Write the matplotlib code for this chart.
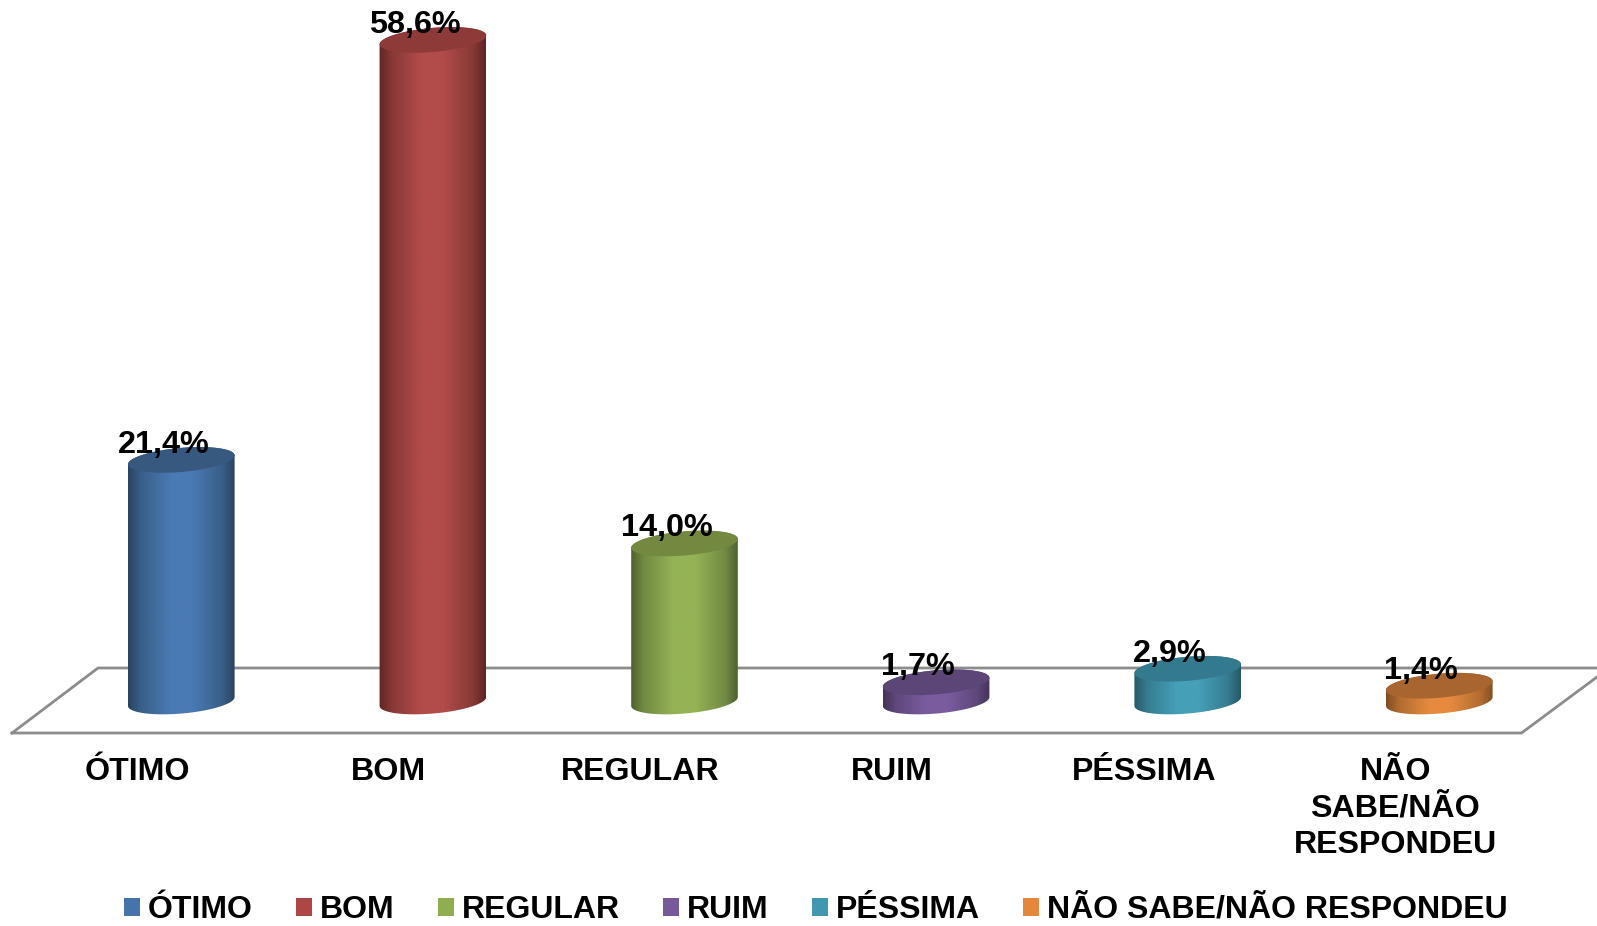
import numpy as np
import matplotlib
matplotlib.use("Agg")
import matplotlib.pyplot as plt
from matplotlib.colors import LinearSegmentedColormap, to_rgb
from matplotlib.patches import PathPatch, Patch, Polygon
from matplotlib.path import Path

categories = ["ÓTIMO", "BOM", "REGULAR", "RUIM", "PÉSSIMA", "NÃO SABE/NÃO RESPONDEU"]
tick_labels = ["ÓTIMO", "BOM", "REGULAR", "RUIM", "PÉSSIMA", "NÃO\nSABE/NÃO\nRESPONDEU"]
values = [21.4, 58.6, 14.0, 1.7, 2.9, 1.4]
value_labels = ["21,4%", "58,6%", "14,0%", "1,7%", "2,9%", "1,4%"]
base_colors = ["#4a7ab3", "#b14c4a", "#95b356", "#7a5c9e", "#45a0b8", "#e58a3f"]
edge_colors = ["#29435f", "#5e2523", "#4f6130", "#433357", "#265867", "#7f4d20"]
top_colors = ["#37587f", "#8d3a38", "#72893f", "#5c4577", "#347a8e", "#a9652f"]
legend_colors = ["#4573ab", "#ae4644", "#8fae50", "#75599a", "#4197b0", "#e3873c"]

W, H = 1597, 926
X0, DX = 181.3, 251.6      # pixel of first category, pixels per category
Y0, DY = 701.5, 11.29      # pixel of value 0, pixels per value unit
AX_BOTTOM = 733.0

plt.rcParams["font.family"] = ["Liberation Sans", "DejaVu Sans"]
plt.rcParams["font.weight"] = "bold"
FS = 23.1

fig = plt.figure(figsize=(W / 100, H / 100), dpi=100, facecolor="white")
ax = fig.add_axes([0, 1 - AX_BOTTOM / H, 1, AX_BOTTOM / H])
ax.set_xlim(-X0 / DX, (W - X0) / DX)
ax.set_ylim(-(AX_BOTTOM - Y0) / DY, Y0 / DY)
for s in ax.spines.values():
    s.set_visible(False)
ax.set_yticks([])
ax.set_xticks(np.arange(len(categories)) - 44 / DX)
ax.set_xticklabels(tick_labels, fontsize=FS, fontweight="bold", linespacing=1.28)
ax.tick_params(axis="x", length=0, pad=17.6)


def px(x, y):
    """Pixel position of the reference -> data position."""
    return (x - X0) / DX, (Y0 - y) / DY


# floor outline
floor_col = "#8c8c8c"
back = [px(12, 733), px(98, 668), px(1597, 668)]
front = [px(12, 733), px(1521.5, 733), px(1597, 677)]
ax.plot(*zip(*back), color=floor_col, lw=2.0, zorder=1, clip_on=False, solid_joinstyle="miter")
ax.plot(*zip(*front), color=floor_col, lw=2.0, zorder=1, clip_on=False, solid_joinstyle="miter")

A, B, TILT = 53.5, 12.0, np.radians(5.0)
T0 = -np.arctan(B * np.sin(TILT) / (A * np.cos(TILT)))


def ell(i, v, t):
    """Tilted ellipse outline around category i at value v, in data units."""
    dx = A * np.cos(t) * np.cos(TILT) - B * np.sin(t) * np.sin(TILT)
    dy = A * np.cos(t) * np.sin(TILT) + B * np.sin(t) * np.cos(TILT)
    return np.column_stack([i + dx / DX, v + dy / DY])


def mix(c1, c2, f):
    a, b = np.array(to_rgb(c1)), np.array(to_rgb(c2))
    return tuple(a + (b - a) * f)


for i, v in enumerate(values):
    e, b = edge_colors[i], base_colors[i]
    cmap = LinearSegmentedColormap.from_list(
        "c", [(0, e), (0.12, mix(e, b, 0.5)), (0.40, b), (0.60, b), (0.88, mix(e, b, 0.5)), (1, e)]
    )
    low = ell(i, 0, np.linspace(T0 - np.pi, T0, 60))
    up = ell(i, v, np.linspace(T0, T0 + np.pi, 60))
    pts = np.vstack([low, up, low[:1]])
    clip = PathPatch(Path(pts, closed=True), transform=ax.transData, fc="none", ec="none")
    ax.add_patch(clip)
    left, right = i - A / DX, i + A / DX
    img = ax.imshow(
        np.linspace(0, 1, 256).reshape(1, -1), cmap=cmap, aspect="auto",
        extent=[left, right, -30 / DY, v + 30 / DY], zorder=2, interpolation="bilinear",
    )
    img.set_clip_path(clip)
    ax.add_patch(Polygon(ell(i, v, np.linspace(0, 2 * np.pi, 120)), closed=True,
                         fc=top_colors[i], ec="none", zorder=3))
    ax.annotate(value_labels[i], (i, v), xytext=(-18 * 0.72, 7 * 0.72), textcoords="offset points",
                ha="center", va="baseline", fontsize=23.3, fontweight="bold", color="black", zorder=5)

ax.set_xlim(-X0 / DX, (W - X0) / DX)
ax.set_ylim(-(AX_BOTTOM - Y0) / DY, Y0 / DY)

handles = [Patch(facecolor=c, edgecolor="none", label=n) for c, n in zip(legend_colors, categories)]
fig.legend(handles=handles, loc="center", bbox_to_anchor=(816 / W, 1 - 910 / H), ncol=6, frameon=False,
           fontsize=23.0, handlelength=0.5, handleheight=0.5, handletextpad=0.24, columnspacing=1.36,
           borderpad=0, borderaxespad=0)

fig.savefig("out.png", dpi=100, facecolor="white")
